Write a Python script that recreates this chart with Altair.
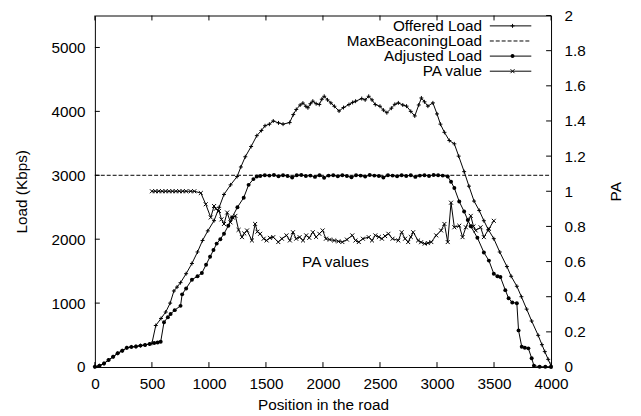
import altair as alt
import pandas as pd

# ---------------- data ----------------
offered = [
    (0, 5), (40, 20), (80, 55), (120, 110), (160, 160), (200, 215), (240, 255), (280, 300),
    (320, 315), (360, 320), (400, 335), (440, 345), (480, 360), (500, 370), (534, 650),
    (580, 760), (621, 860), (660, 1000), (693, 1190), (720, 1250), (751, 1320), (800, 1460),
    (851, 1620), (900, 1800), (944, 1980), (990, 2130), (1045, 2290), (1090, 2500),
    (1132, 2700), (1190, 2850), (1247, 2980), (1280, 3130), (1319, 3290), (1370, 3450),
    (1420, 3620), (1460, 3700), (1492, 3775), (1530, 3800), (1564, 3850), (1610, 3820),
    (1650, 3800), (1708, 3825), (1740, 3950), (1766, 4030), (1800, 4100), (1824, 4130),
    (1850, 4080), (1868, 4056), (1890, 4120), (1911, 4160), (1940, 4120), (1968, 4107),
    (1990, 4190), (2011, 4236), (2040, 4180), (2069, 4133), (2100, 4080), (2141, 4005),
    (2180, 4060), (2228, 4107), (2260, 4140), (2286, 4159), (2340, 4200), (2370, 4180),
    (2401, 4236), (2430, 4180), (2459, 4107), (2500, 4080), (2530, 4020), (2560, 3979),
    (2600, 4050), (2630, 4110), (2661, 4133), (2700, 4100), (2733, 4082), (2770, 4000),
    (2805, 3928), (2840, 4100), (2863, 4210), (2890, 4150), (2920, 4082), (2964, 4133),
    (3000, 3960), (3030, 3800), (3065, 3672), (3108, 3544), (3152, 3492), (3190, 3300),
    (3238, 3057), (3280, 2830), (3325, 2596), (3370, 2450), (3411, 2289), (3450, 2150),
    (3498, 2008), (3550, 1800), (3613, 1572), (3650, 1420), (3700, 1264), (3740, 1100),
    (3786, 906), (3830, 720), (3887, 496), (3920, 350), (3945, 241), (3975, 120), (4000, 15),
]

adjusted = [
    (0, 5), (40, 20), (80, 55), (120, 110), (160, 160), (200, 215), (240, 255), (280, 300),
    (320, 315), (360, 320), (400, 335), (440, 345), (480, 360), (520, 375), (550, 385),
    (577, 395), (606, 700), (640, 780), (664, 830), (700, 890), (751, 957), (765, 1137),
    (800, 1230), (851, 1367), (900, 1420), (938, 1470), (975, 1600), (1010, 1725),
    (1040, 1830), (1068, 1931), (1100, 2000), (1132, 2085), (1170, 2210), (1203, 2340),
    (1250, 2500), (1305, 2650), (1348, 2850), (1390, 2940), (1420, 2980),
    (1450, 2990), (1490, 3000), (1530, 2995), (1570, 3005), (1610, 2985), (1650, 3000),
    (1690, 2990), (1730, 2965), (1770, 3000), (1810, 3005), (1850, 2990), (1890, 2995),
    (1930, 2975), (1970, 3000), (2010, 2960), (2050, 2995), (2090, 3000), (2130, 2985),
    (2170, 3000), (2210, 2990), (2250, 2970), (2290, 3000), (2330, 2995), (2370, 2980),
    (2410, 3005), (2450, 2995), (2490, 2990), (2530, 2965), (2570, 3000), (2610, 2995),
    (2650, 2985), (2690, 3000), (2730, 2990), (2770, 3000), (2810, 2975), (2850, 2995),
    (2890, 3000), (2930, 2990), (2970, 3005), (3010, 3000), (3050, 2995), (3094, 2980),
    (3123, 2900), (3152, 2800), (3195, 2589), (3238, 2432), (3270, 2300), (3296, 2202),
    (3354, 2023), (3411, 1793), (3455, 1665), (3498, 1460), (3530, 1420), (3556, 1408),
    (3599, 1203), (3628, 1075), (3660, 1010), (3700, 999), (3715, 573), (3743, 318),
    (3770, 300), (3801, 292), (3830, 138), (3850, 20), (3900, 5), (3950, 3), (4000, 0),
]

pa_values = [
    (500, 1.0), (530, 1.0), (560, 1.0), (590, 1.0), (620, 1.0), (650, 1.0), (680, 1.0),
    (710, 1.0), (740, 1.0), (770, 1.0), (800, 1.0), (840, 1.0), (872, 1.0), (929, 0.99),
    (972, 0.926), (1016, 0.851), (1045, 0.916), (1060, 0.90), (1088, 0.888), (1110, 0.84),
    (1132, 0.814), (1160, 0.879), (1189, 0.823), (1210, 0.85), (1232, 0.86), (1260, 0.78),
    (1290, 0.739), (1310, 0.76), (1334, 0.777), (1377, 0.72), (1405, 0.814), (1425, 0.77),
    (1449, 0.758), (1480, 0.73), (1506, 0.72), (1535, 0.735), (1564, 0.739), (1608, 0.711),
    (1640, 0.73), (1680, 0.749), (1710, 0.72), (1737, 0.767), (1765, 0.73), (1795, 0.739),
    (1825, 0.72), (1853, 0.749), (1880, 0.735), (1911, 0.767), (1940, 0.74), (1968, 0.758),
    (1997, 0.777), (2026, 0.73), (2060, 0.725), (2098, 0.72), (2135, 0.715), (2170, 0.711),
    (2210, 0.725), (2257, 0.749), (2285, 0.72), (2314, 0.711), (2350, 0.73), (2401, 0.739),
    (2430, 0.72), (2459, 0.749), (2490, 0.74), (2517, 0.73), (2545, 0.745), (2574, 0.758),
    (2610, 0.73), (2661, 0.72), (2690, 0.767), (2720, 0.73), (2747, 0.711), (2770, 0.74),
    (2791, 0.767), (2834, 0.72), (2860, 0.71), (2892, 0.702), (2920, 0.705), (2950, 0.711),
    (2993, 0.749), (3036, 0.777), (3065, 0.814), (3094, 0.711), (3123, 0.935), (3152, 0.795),
    (3195, 0.804), (3224, 0.739), (3253, 0.795), (3296, 0.86), (3320, 0.80), (3339, 0.777),
    (3382, 0.795), (3411, 0.739), (3455, 0.786), (3498, 0.832),
]

max_beaconing = [(0, 3000), (4000, 3000)]

x_ticks = [0, 500, 1000, 1500, 2000, 2500, 3000, 3500, 4000]
load_ticks = [0, 1000, 2000, 3000, 4000, 5000]
pa_ticks = [0, 0.2, 0.4, 0.6, 0.8, 1, 1.2, 1.4, 1.6, 1.8, 2]
legend_labels = ["Offered Load", "MaxBeaconingLoad", "Adjusted Load", "PA value"]
note = [("PA values", 2110, 1650)]

# ---------------- styling ----------------
W, H = 462, 356
FONT = "Liberation Sans"
FS = 15.5
PLUS = "M-1,0L1,0M0,-1L0,1"
XMARK = "M-1,-1L1,1M1,-1L-1,1"

xs = alt.Scale(domain=[0, 4000], nice=False, zero=False)
ls = alt.Scale(domain=[0, 5500], nice=False, zero=False)
ps = alt.Scale(domain=[0, 2], nice=False, zero=False)

df_off = pd.DataFrame(offered, columns=["x", "load"])
df_adj = pd.DataFrame(adjusted, columns=["x", "load"])
df_pa = pd.DataFrame(pa_values, columns=["x", "pa"])
df_max = pd.DataFrame(max_beaconing, columns=["x", "load"])
df_xt = pd.DataFrame({"x": x_ticks})
df_lt = pd.DataFrame({"load": load_ticks})
df_pt = pd.DataFrame({"pa": pa_ticks})
df_note = pd.DataFrame(note, columns=["label", "x", "load"])
dummy = pd.DataFrame({"a": [0]})

common_axis = dict(
    grid=False, domain=False, ticks=False, tickSize=0,
    labelFont=FONT, labelFontSize=FS, labelColor="black",
    titleFont=FONT, titleFontSize=FS, titleColor="black", titleFontWeight="normal",
    labelOverlap=False,
)

x_axis = alt.Axis(values=x_ticks, title="Position in the road", labelPadding=10, format="d",
                  labelFlush=False, titleX=W / 2, titleY=38, titleAlign="center",
                  titleBaseline="middle", titleAngle=0, orient="bottom", **common_axis)
load_axis = alt.Axis(values=load_ticks, title="Load (Kbps)", labelPadding=10, orient="left",
                     format="d", titleX=-74, titleY=H / 2, titleAngle=270, titleAlign="center",
                     titleBaseline="middle", **common_axis)
pa_axis = alt.Axis(values=pa_ticks, title="PA", labelPadding=13, orient="right",
                   format="~g", titleX=65, titleY=H / 2, titleAngle=270, titleAlign="center",
                   titleBaseline="middle", **common_axis)

X = alt.X("x:Q", scale=xs, axis=x_axis)
L = alt.Y("load:Q", scale=ls, axis=load_axis)
P = alt.Y("pa:Q", scale=ps, axis=pa_axis)

offered_line = alt.Chart(df_off).mark_line(color="black", strokeWidth=1).encode(x=X, y=L)
offered_pts = alt.Chart(df_off).mark_point(shape=PLUS, size=16, filled=False, color="black",
                                           strokeWidth=1, opacity=1).encode(x=X, y=L)
max_line = alt.Chart(df_max).mark_line(color="black", strokeWidth=1, strokeDash=[4, 2]).encode(
    x=X, y=L)
adj_line = alt.Chart(df_adj).mark_line(color="black", strokeWidth=1).encode(x=X, y=L)
adj_pts = alt.Chart(df_adj).mark_point(shape="circle", size=16, filled=True, color="black",
                                       opacity=1).encode(x=X, y=L)
note_txt = alt.Chart(df_note).mark_text(font=FONT, fontSize=FS, color="black",
                                        align="center", baseline="middle").encode(
    x=X, y=L, text="label:N")

xt_bottom = alt.Chart(df_xt).mark_rule(color="black", strokeWidth=1).encode(
    x=X, y=alt.value(H), y2=alt.value(H - 5))
xt_top = alt.Chart(df_xt).mark_rule(color="black", strokeWidth=1).encode(
    x=X, y=alt.value(0), y2=alt.value(5))
lt_left = alt.Chart(df_lt).mark_rule(color="black", strokeWidth=1).encode(
    y=L, x=alt.value(0), x2=alt.value(5))

legend_layers = []
for i, label in enumerate(legend_labels):
    yy = 10.5 + 15.3 * i
    legend_layers.append(alt.Chart(dummy).mark_text(
        font=FONT, fontSize=FS, color="black", align="right", baseline="middle").encode(
        x=alt.value(392), y=alt.value(yy), text=alt.value(label)))
    rule_kw = dict(color="black", strokeWidth=1)
    if i == 1:
        rule_kw["strokeDash"] = [4, 2]
    legend_layers.append(alt.Chart(dummy).mark_rule(**rule_kw).encode(
        x=alt.value(400), x2=alt.value(442), y=alt.value(yy)))
    if i == 0:
        legend_layers.append(alt.Chart(dummy).mark_point(
            shape=PLUS, size=16, filled=False, color="black", strokeWidth=1, opacity=1).encode(
            x=alt.value(423), y=alt.value(yy)))
    elif i == 2:
        legend_layers.append(alt.Chart(dummy).mark_point(
            shape="circle", size=16, filled=True, color="black", opacity=1).encode(
            x=alt.value(423), y=alt.value(yy)))
    elif i == 3:
        legend_layers.append(alt.Chart(dummy).mark_point(
            shape=XMARK, size=16, filled=False, color="black", strokeWidth=1, opacity=1).encode(
            x=alt.value(423), y=alt.value(yy)))

left = alt.layer(offered_line, offered_pts, max_line, adj_line, adj_pts, note_txt,
                 xt_bottom, xt_top, lt_left, *legend_layers)

pa_line = alt.Chart(df_pa).mark_line(color="black", strokeWidth=1).encode(x=X, y=P)
pa_pts = alt.Chart(df_pa).mark_point(shape=XMARK, size=16, filled=False, color="black",
                                     strokeWidth=1, opacity=1).encode(x=X, y=P)
pt_right = alt.Chart(df_pt).mark_rule(color="black", strokeWidth=1).encode(
    y=P, x=alt.value(W), x2=alt.value(W - 5))
right = alt.layer(pa_line, pa_pts, pt_right)

chart = alt.layer(left, right).resolve_scale(y="independent").properties(
    width=W, height=H,
    autosize=alt.AutoSizeParams(type="none"),
    padding={"left": 88, "top": 5, "right": 83, "bottom": 47},
    background="white",
).configure_view(stroke="black", strokeWidth=1)

chart.save("out.html", embed_options={"renderer": "svg", "actions": False})
